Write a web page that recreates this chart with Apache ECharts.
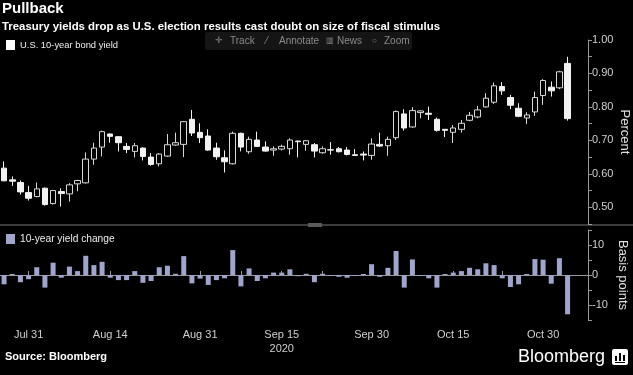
<!DOCTYPE html>
<html>
<head>
<meta charset="utf-8">
<script src="https://cdn.jsdelivr.net/npm/echarts@6/dist/echarts.min.js"></script>
<style>
html,body{margin:0;padding:0;background:#000;}
#chart{width:633px;height:375px;}
</style>
</head>
<body>
<div id="chart"></div>
<script>
// Trading dates (categories)
const dates = ['Jul 28','Jul 29','Jul 30','Jul 31','Aug 3','Aug 4','Aug 5','Aug 6','Aug 7','Aug 10',
  'Aug 11','Aug 12','Aug 13','Aug 14','Aug 17','Aug 18','Aug 19','Aug 20','Aug 21','Aug 24',
  'Aug 25','Aug 26','Aug 27','Aug 28','Aug 31','Sep 1','Sep 2','Sep 3','Sep 4','Sep 8',
  'Sep 9','Sep 10','Sep 11','Sep 14','Sep 15','Sep 16','Sep 17','Sep 18','Sep 21','Sep 22',
  'Sep 23','Sep 24','Sep 25','Sep 28','Sep 29','Sep 30','Oct 1','Oct 2','Oct 5','Oct 6',
  'Oct 7','Oct 8','Oct 9','Oct 13','Oct 14','Oct 15','Oct 16','Oct 19','Oct 20','Oct 21',
  'Oct 22','Oct 23','Oct 26','Oct 27','Oct 28','Oct 29','Oct 30','Nov 2','Nov 3','Nov 4'];

// U.S. 10-year yield candles, percent
const openVals  = [0.617,0.582,0.574,0.544,0.532,0.557,0.511,0.547,0.540,0.570,
  0.573,0.644,0.680,0.719,0.711,0.682,0.667,0.677,0.650,0.630,
  0.653,0.686,0.688,0.763,0.724,0.713,0.677,0.648,0.630,0.721,
  0.666,0.701,0.680,0.671,0.674,0.675,0.698,0.688,0.687,0.663,
  0.672,0.675,0.671,0.657,0.659,0.655,0.688,0.684,0.708,0.779,
  0.740,0.783,0.781,0.763,0.733,0.724,0.733,0.760,0.770,0.800,
  0.814,0.861,0.828,0.796,0.767,0.785,0.834,0.859,0.857,0.930];
const closeVals = [0.579,0.578,0.546,0.527,0.555,0.508,0.550,0.541,0.567,0.580,
  0.644,0.677,0.726,0.712,0.693,0.673,0.684,0.652,0.628,0.659,
  0.687,0.693,0.756,0.722,0.708,0.671,0.651,0.636,0.721,0.680,
  0.703,0.682,0.668,0.675,0.682,0.701,0.696,0.699,0.668,0.675,
  0.671,0.666,0.658,0.655,0.656,0.689,0.683,0.703,0.786,0.737,
  0.789,0.788,0.778,0.730,0.730,0.737,0.751,0.775,0.791,0.826,
  0.863,0.848,0.805,0.772,0.776,0.828,0.879,0.848,0.905,0.765];
const lowVals   = [0.578,0.564,0.538,0.520,0.530,0.505,0.508,0.502,0.517,0.548,
  0.571,0.627,0.652,0.693,0.667,0.662,0.649,0.640,0.624,0.622,
  0.651,0.684,0.650,0.713,0.692,0.669,0.642,0.604,0.628,0.667,
  0.660,0.680,0.666,0.654,0.670,0.657,0.649,0.669,0.649,0.660,
  0.657,0.664,0.655,0.654,0.640,0.642,0.680,0.654,0.701,0.729,
  0.738,0.766,0.761,0.726,0.710,0.692,0.723,0.757,0.766,0.798,
  0.809,0.836,0.793,0.769,0.749,0.773,0.806,0.831,0.853,0.759];
const highVals  = [0.637,0.592,0.580,0.564,0.574,0.559,0.552,0.557,0.572,0.582,
  0.664,0.693,0.729,0.721,0.712,0.692,0.692,0.679,0.662,0.662,
  0.719,0.723,0.758,0.791,0.751,0.733,0.693,0.670,0.726,0.723,
  0.711,0.726,0.697,0.682,0.687,0.706,0.699,0.701,0.692,0.682,
  0.695,0.680,0.680,0.674,0.667,0.706,0.723,0.711,0.789,0.793,
  0.799,0.789,0.801,0.768,0.734,0.746,0.761,0.785,0.803,0.841,
  0.873,0.874,0.836,0.811,0.784,0.846,0.883,0.876,0.908,0.950];

// Daily change, basis points
const changeVals = [-3.1,0.3,-2.4,-1.4,2.6,-4.2,4.1,-0.9,2.8,1.3,
  6.4,3.3,4.4,-0.9,-1.7,-1.7,1.3,-2.6,-2.0,2.6,
  3.1,0.4,6.3,-2.8,-1.2,-3.3,-1.7,-1.1,8.3,-3.8,
  2.2,-2.0,-1.1,0.8,0.8,1.9,-0.4,0.4,-2.4,0.4,
  -0.2,-0.6,-0.9,-0.1,0.1,3.6,-0.6,2.4,8.0,-4.2,
  5.2,-0.2,-1.1,-4.2,0.1,0.8,1.3,2.4,1.9,3.9,
  3.3,-1.1,-4.0,-3.1,0.3,5.3,5.1,-2.9,5.6,-13.1];

const tickLabels = ['Jul 31','Aug 14','Aug 31','Sep 15','Sep 30','Oct 15','Oct 30'];
const minorTickDates = ['Aug 7','Aug 24','Sep 8','Sep 22','Oct 7','Oct 23'];
const yearLabel = '2020';
const percentTicks = [0.5,0.6,0.7,0.8,0.9,1.0];
const bpTicks = [-10,0,10];

const FONT = 'Liberation Sans, Arial, sans-serif';
const candleData = dates.map((d,i)=>[openVals[i],closeVals[i],lowVals[i],highVals[i]]);
// two trailing empty slots give the axis its right margin
const cats = dates.concat([' ','  ']);

const chart = echarts.init(document.getElementById('chart'), null, {renderer:'canvas'});
const TB = '#8a8a8a';
const option = {
  backgroundColor:'#000',
  animation:false,
  title:{
    text:'Pullback',
    subtext:'Treasury yields drop as U.S. election results cast doubt on size of fiscal stimulus',
    left:2, top:1, padding:0, itemGap:5,
    textStyle:{color:'#fff',fontSize:15,fontWeight:'bold',fontFamily:FONT},
    subtextStyle:{color:'#fff',fontSize:11.4,fontWeight:'bold',fontFamily:FONT}
  },
  legend:[
    {data:[{name:'U.S. 10-year bond yield',itemStyle:{color:'#fff',borderWidth:0}}],
     left:6, top:40, icon:'rect', itemWidth:9, itemHeight:10, itemGap:3, padding:0,
     textStyle:{color:'#eee',fontSize:9.4,fontFamily:FONT}, selectedMode:false},
    {data:[{name:'10-year yield change',itemStyle:{color:'#9fa5cc'}}],
     left:6, top:234, icon:'rect', itemWidth:9, itemHeight:10, itemGap:3, padding:0,
     textStyle:{color:'#eee',fontSize:10.2,fontFamily:FONT}, selectedMode:false}
  ],
  grid:[
    {left:0, top:40, width:588, height:184, outerBoundsMode:'none', containLabel:false},
    {left:0, top:230, width:588, height:90, outerBoundsMode:'none', containLabel:false}
  ],
  xAxis:[
    {type:'category', gridIndex:0, data:cats, boundaryGap:true,
     axisLine:{show:false}, axisTick:{show:false}, axisLabel:{show:false}, splitLine:{show:false}},
    {type:'category', gridIndex:1, data:cats, boundaryGap:true, offset:3,
     axisLine:{show:true, lineStyle:{color:'#9a9a9a',width:1}},
     axisTick:{show:true, inside:true, length:4, alignWithLabel:true, lineStyle:{color:'#9a9a9a'},
       interval:(i,v)=>tickLabels.indexOf(v)>=0 || minorTickDates.indexOf(v)>=0},
     axisLabel:{show:true, color:'#d0d0d0', fontSize:11, fontFamily:FONT, margin:5, lineHeight:14,
       interval:(i,v)=>tickLabels.indexOf(v)>=0,
       formatter:v=> v==='Sep 15' ? v+'\n'+yearLabel : v},
     splitLine:{show:false}}
  ],
  yAxis:[
    {type:'value', gridIndex:0, position:'right', min:0.45, max:1.0, interval:0.05,
     axisLine:{show:true, lineStyle:{color:'#9a9a9a'}},
     axisTick:{show:true, length:4, lineStyle:{color:'#9a9a9a'}},
     axisLabel:{color:'#d0d0d0', fontSize:11, fontFamily:FONT, margin:4,
       formatter:v=>{ const r=Math.round(v*100)/100; return percentTicks.some(t=>Math.abs(t-r)<1e-6) ? r.toFixed(2) : ''; }},
     splitLine:{show:false},
     name:'Percent', nameLocation:'middle', nameRotate:-90, nameGap:30, nameMoveOverlap:false,
     nameTextStyle:{color:'#e0e0e0', fontSize:13, fontFamily:FONT}},
    {type:'value', gridIndex:1, position:'right', min:-15, max:15, interval:5,
     axisLine:{show:true, lineStyle:{color:'#9a9a9a'}},
     axisTick:{show:true, length:4, lineStyle:{color:'#9a9a9a'}},
     axisLabel:{color:'#d0d0d0', fontSize:11, fontFamily:FONT, margin:4,
       formatter:v=> bpTicks.indexOf(v)>=0 ? String(v) : ''},
     splitLine:{show:false},
     name:'Basis points', nameLocation:'middle', nameRotate:-90, nameGap:28, nameMoveOverlap:false,
     nameTextStyle:{color:'#e0e0e0', fontSize:13, fontFamily:FONT}}
  ],
  series:[
    {name:'U.S. 10-year bond yield', type:'candlestick', xAxisIndex:0, yAxisIndex:0,
     data:candleData, barWidth:6,
     itemStyle:{color:'#000', color0:'#f2f2f2', borderColor:'#d8d8d8', borderColor0:'#f2f2f2', borderWidth:1}},
    {name:'10-year yield change', type:'bar', xAxisIndex:1, yAxisIndex:1,
     data:changeVals, barWidth:5, barMinHeight:1,
     itemStyle:{color:'#9fa5cc'}}
  ],
  graphic:[
    {type:'rect', shape:{x:205,y:32,width:207,height:18,r:2}, style:{fill:'#151515'}, silent:true},
    {type:'text', x:215, y:41, style:{text:'✛', fill:TB, font:'9px '+FONT, verticalAlign:'middle'}},
    {type:'text', x:230, y:41, style:{text:'Track', fill:TB, font:'10px '+FONT, verticalAlign:'middle'}},
    {type:'text', x:266, y:41, style:{text:'⁄', fill:TB, font:'10px '+FONT, verticalAlign:'middle'}},
    {type:'text', x:279, y:41, style:{text:'Annotate', fill:TB, font:'10px '+FONT, verticalAlign:'middle'}},
    {type:'text', x:326, y:41, style:{text:'▥', fill:TB, font:'8px '+FONT, verticalAlign:'middle'}},
    {type:'text', x:337, y:41, style:{text:'News', fill:TB, font:'10px '+FONT, verticalAlign:'middle'}},
    {type:'text', x:372, y:41, style:{text:'○', fill:TB, font:'8px '+FONT, verticalAlign:'middle'}},
    {type:'text', x:384, y:41, style:{text:'Zoom', fill:TB, font:'10px '+FONT, verticalAlign:'middle'}},
    {type:'rect', shape:{x:0,y:224,width:633,height:2}, style:{fill:'#3c3c3c'}, silent:true},
    {type:'rect', shape:{x:308,y:223,width:14,height:4}, style:{fill:'#5a5a5a'}, silent:true},
    {type:'text', x:5, y:357, style:{text:'Source: Bloomberg', fill:'#fff', font:'bold 11px '+FONT, verticalAlign:'middle'}},
    {type:'text', x:518, y:357, style:{text:'Bloomberg', fill:'#fff', font:'18px '+FONT, verticalAlign:'middle'}},
    {type:'rect', shape:{x:612,y:349,width:16,height:16,r:2}, style:{fill:'#fff'}},
    {type:'rect', shape:{x:615,y:356,width:2,height:5}, style:{fill:'#000'}},
    {type:'rect', shape:{x:619,y:353,width:2,height:8}, style:{fill:'#000'}},
    {type:'rect', shape:{x:623,y:355,width:2,height:6}, style:{fill:'#000'}},
    {type:'rect', shape:{x:615,y:362,width:10,height:1}, style:{fill:'#000'}}
  ]
};
chart.setOption(option);
</script>
</body>
</html>
